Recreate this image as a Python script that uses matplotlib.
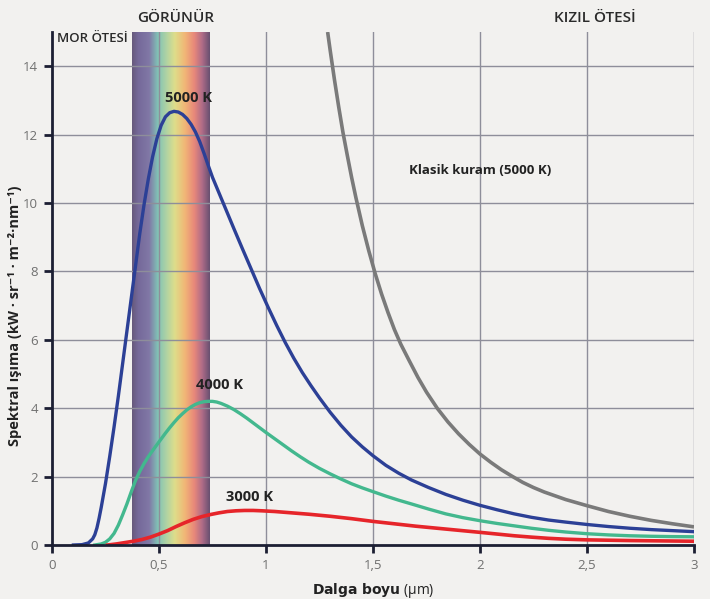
import numpy as np
import matplotlib
matplotlib.use("Agg")
import matplotlib.pyplot as plt
from matplotlib.colors import LinearSegmentedColormap

# values (wavelength in um, radiance in kW sr-1 m-2 nm-1)
wl_5000 = [0.10, 0.14, 0.17, 0.19, 0.20, 0.21, 0.22, 0.23, 0.24, 0.25, 0.27, 0.29,
           0.31, 0.33, 0.35, 0.37, 0.39, 0.41, 0.43, 0.45, 0.47, 0.49, 0.51, 0.53,
           0.55, 0.57, 0.59, 0.61, 0.63, 0.65, 0.67, 0.69, 0.71, 0.73, 0.75, 0.78,
           0.81, 0.85, 0.89, 0.93, 0.97, 1.01, 1.05, 1.09, 1.13, 1.17, 1.21, 1.25,
           1.30, 1.35, 1.40, 1.45, 1.50, 1.56, 1.62, 1.68, 1.76, 1.84, 1.92, 2.00,
           2.08, 2.16, 2.24, 2.32, 2.40, 2.50, 2.60, 2.70, 2.80, 2.90, 3.00]
rad_5000 = [0.0, 0.01, 0.06, 0.18, 0.30, 0.50, 0.78, 1.10, 1.45, 1.80, 2.60, 3.45,
            4.35, 5.30, 6.25, 7.20, 8.15, 9.10, 9.95, 10.70, 11.35, 11.88, 12.27, 12.52,
            12.64, 12.68, 12.66, 12.59, 12.47, 12.30, 12.08, 11.80, 11.46, 11.10, 10.75, 10.30,
            9.85, 9.25, 8.66, 8.08, 7.50, 6.95, 6.42, 5.92, 5.46, 5.04, 4.66, 4.30,
            3.88, 3.50, 3.16, 2.87, 2.61, 2.33, 2.10, 1.90, 1.68, 1.48, 1.31, 1.16,
            1.03, 0.91, 0.81, 0.73, 0.67, 0.60, 0.54, 0.49, 0.45, 0.42, 0.39]

wl_4000 = [0.20, 0.23, 0.25, 0.27, 0.29, 0.31, 0.33, 0.35, 0.37, 0.39, 0.41, 0.43,
           0.45, 0.47, 0.49, 0.51, 0.53, 0.55, 0.57, 0.59, 0.61, 0.63, 0.65, 0.67,
           0.69, 0.71, 0.73, 0.75, 0.77, 0.79, 0.82, 0.85, 0.88, 0.91, 0.94, 0.97,
           1.00, 1.04, 1.08, 1.12, 1.16, 1.20, 1.25, 1.30, 1.35, 1.40, 1.45, 1.50,
           1.56, 1.62, 1.68, 1.76, 1.84, 1.92, 2.00, 2.08, 2.16, 2.24, 2.32, 2.40,
           2.50, 2.60, 2.70, 2.80, 2.90, 3.00]
rad_4000 = [0.0, 0.03, 0.08, 0.18, 0.34, 0.58, 0.88, 1.20, 1.55, 1.88, 2.15, 2.38,
            2.58, 2.76, 2.93, 3.10, 3.27, 3.43, 3.58, 3.72, 3.84, 3.95, 4.04, 4.11,
            4.16, 4.19, 4.20, 4.20, 4.18, 4.14, 4.06, 3.96, 3.84, 3.71, 3.57, 3.43,
            3.29, 3.11, 2.93, 2.75, 2.58, 2.42, 2.24, 2.08, 1.93, 1.79, 1.67, 1.56,
            1.43, 1.31, 1.20, 1.05, 0.91, 0.80, 0.71, 0.63, 0.56, 0.49, 0.43, 0.38,
            0.33, 0.295, 0.27, 0.255, 0.245, 0.24]

wl_3000 = [0.26, 0.30, 0.34, 0.38, 0.42, 0.46, 0.50, 0.54, 0.58, 0.62, 0.66, 0.70,
           0.74, 0.78, 0.82, 0.86, 0.90, 0.94, 0.98, 1.04, 1.10, 1.20, 1.30, 1.40,
           1.50, 1.60, 1.70, 1.80, 1.90, 2.00, 2.08, 2.16, 2.24, 2.32, 2.40, 2.50,
           2.60, 2.70, 2.85, 3.00]
rad_3000 = [0.0, 0.03, 0.07, 0.11, 0.16, 0.23, 0.32, 0.42, 0.54, 0.65, 0.75, 0.83,
            0.89, 0.94, 0.98, 1.00, 1.01, 1.01, 1.00, 0.98, 0.95, 0.90, 0.84, 0.77,
            0.69, 0.62, 0.55, 0.49, 0.43, 0.37, 0.32, 0.27, 0.23, 0.195, 0.17, 0.15,
            0.14, 0.13, 0.12, 0.11]

wl_classic = [1.288, 1.30, 1.32, 1.34, 1.36, 1.38, 1.40, 1.42, 1.45, 1.48, 1.51,
              1.54, 1.57, 1.60, 1.63, 1.67, 1.71, 1.75, 1.80, 1.85, 1.90, 1.95,
              2.00, 2.05, 2.10, 2.15, 2.20, 2.25, 2.30, 2.40, 2.50, 2.60, 2.70,
              2.80, 2.90, 3.00]
rad_classic = [15.0, 14.46, 13.6, 12.8, 12.05, 11.39, 10.75, 10.16, 9.34, 8.61, 7.94,
               7.34, 6.80, 6.30, 5.87, 5.38, 4.90, 4.47, 4.00, 3.60, 3.25, 2.94,
               2.66, 2.42, 2.20, 2.01, 1.83, 1.68, 1.55, 1.33, 1.15, 0.98, 0.84,
               0.72, 0.62, 0.53]

x_ticks = [0, 0.5, 1, 1.5, 2, 2.5, 3]
x_tick_labels = ["0", "0,5", "1", "1,5", "2", "2,5", "3"]
y_ticks = [0, 2, 4, 6, 8, 10, 12, 14]
visible_band = (0.375, 0.738)

bg = "#f2f1ef"
dark = "#1c1f33"
font = ["Open Sans", "DejaVu Sans"]

fig = plt.figure(figsize=(7.10, 5.99), dpi=100, facecolor=bg)
ax = fig.add_axes([52 / 710, 1 - 545 / 599, 642 / 710, 513 / 599])
ax.set_facecolor(bg)
ax.set_xlim(0, 3)
ax.set_ylim(0, 15)

# visible spectrum band
spec = LinearSegmentedColormap.from_list("spec", [
    (0.00, "#67597c"), (0.08, "#75699a"), (0.22, "#8178a6"), (0.33, "#80c2b6"),
    (0.45, "#b3d4a2"), (0.55, "#dedd8a"), (0.68, "#f1b676"), (0.80, "#e8887a"),
    (0.90, "#b06c88"), (1.00, "#685070")])
ax.imshow(np.linspace(0, 1, 256)[None, :], cmap=spec, aspect="auto",
          extent=(visible_band[0], visible_band[1], 0, 15), zorder=1,
          interpolation="bilinear")

for x in x_ticks[1:]:
    ax.axvline(x, color="#8e8e9a", lw=1.0, zorder=2)
for y in y_ticks[1:]:
    ax.axhline(y, color="#8e8e9a", lw=1.0, zorder=2)

ax.plot(wl_classic, rad_classic, color="#7a7a7a", lw=2.6, zorder=3,
        solid_capstyle="butt", solid_joinstyle="round")
ax.plot(wl_5000, rad_5000, color="#2c4096", lw=2.4, zorder=4, solid_joinstyle="round")
ax.plot(wl_4000, rad_4000, color="#43b88e", lw=2.4, zorder=4, solid_joinstyle="round")
ax.plot(wl_3000, rad_3000, color="#e6252a", lw=2.6, zorder=4, solid_joinstyle="round")

lbl = dict(fontweight="bold", color="#222222", family=font,
           ha="center", va="center", zorder=5)
ax.text(0.636, 13.07, "5000 K", fontsize=10.5, **lbl)
ax.text(0.783, 4.67, "4000 K", fontsize=10.5, **lbl)
ax.text(0.923, 1.40, "3000 K", fontsize=10.5, **lbl)
ax.text(2.0, 10.96, "Klasik kuram (5000 K)", fontsize=9.5, **lbl)

top = dict(color="#2a2a2a", family=font, fontweight="semibold", va="center")
ax.text(0.025, 14.82, "MOR ÖTESİ", ha="left", fontsize=9.5, **top)
fig.text(176 / 710, 1 - 18 / 599, "GÖRÜNÜR", ha="center", fontsize=11, **top)
fig.text(595 / 710, 1 - 18 / 599, "KIZIL ÖTESİ", ha="center", fontsize=11, **top)

for s in ["top", "right"]:
    ax.spines[s].set_visible(False)
for s in ["left", "bottom"]:
    ax.spines[s].set_color(dark)
    ax.spines[s].set_linewidth(2)
    ax.spines[s].set_zorder(6)

ax.set_xticks(x_ticks)
ax.set_xticklabels(x_tick_labels)
ax.set_yticks(y_ticks)
ax.tick_params(direction="out", length=6, width=2, color=dark,
               labelcolor="#707070", labelsize=9.5, pad=4)
for t in ax.get_xticklabels() + ax.get_yticklabels():
    t.set_family(font)

fig.text(15 / 710, 1 - 316 / 599,
         "Spektral ışıma (kW · sr⁻¹ · m⁻²·nm⁻¹)",
         rotation=90, ha="center", va="center", fontsize=10.5,
         fontweight="bold", color="#222222", family=font)
fig.text(373 / 710, 1 - 590 / 599, r"$\mathbf{Dalga\ boyu}$ (μm)",
         ha="center", va="center", fontsize=10, color="#222222", family=font)

fig.savefig("out.png", dpi=100, facecolor=bg)
